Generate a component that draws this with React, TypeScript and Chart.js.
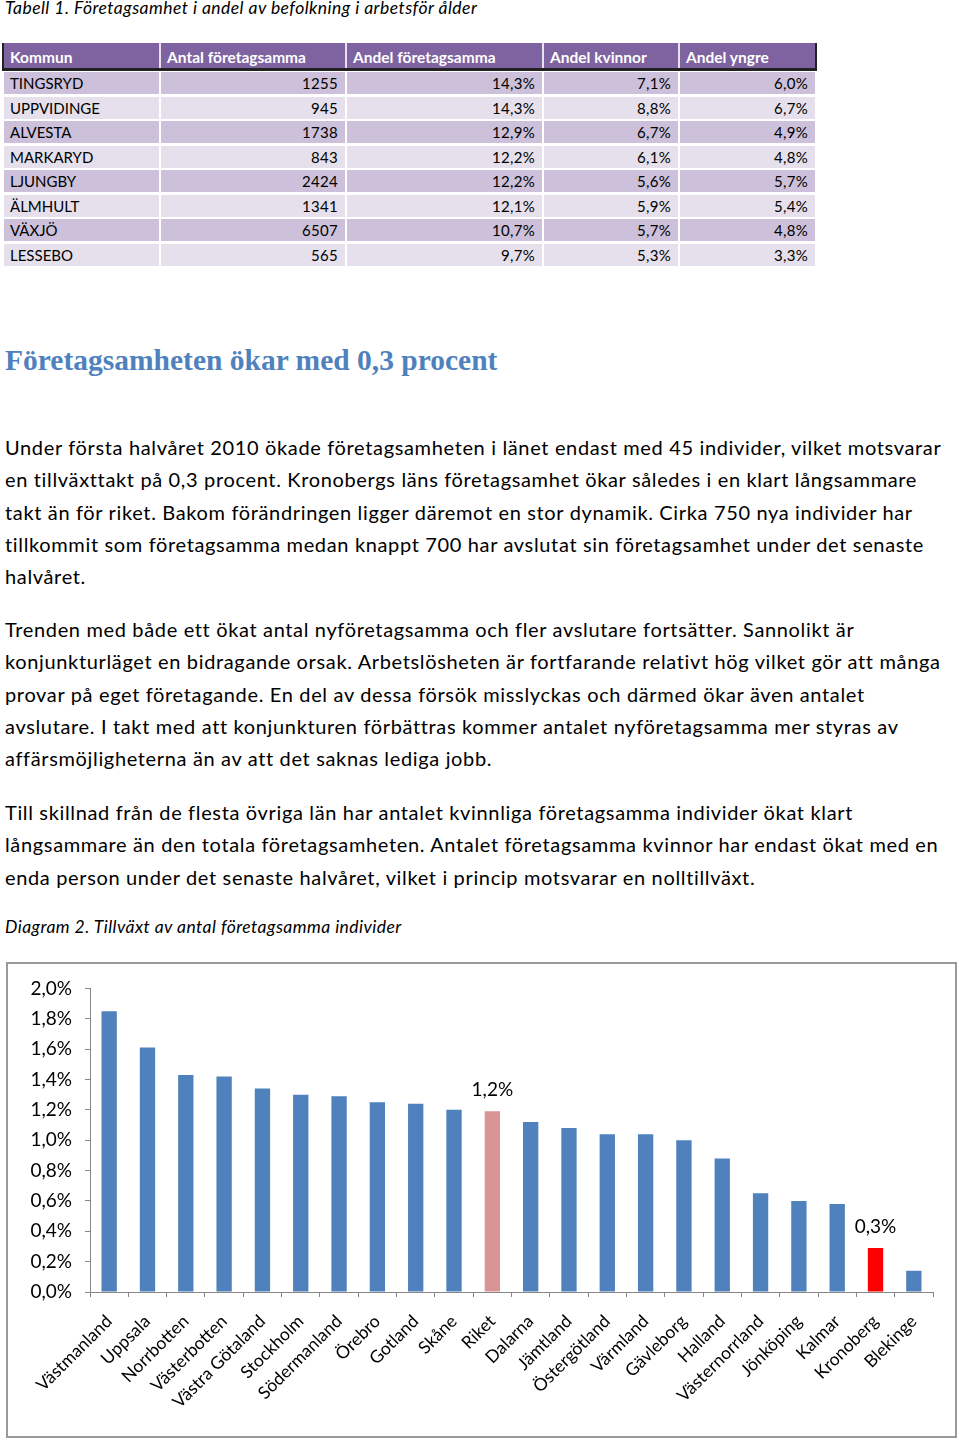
import React, { useEffect, useRef } from "react";
import { Chart, registerables } from "chart.js";

Chart.register(...registerables);

// ---------- Data ----------
const tableTitle = "Tabell 1. Företagsamhet i andel av befolkning i arbetsför ålder";
const tableHeaders = ["Kommun", "Antal företagsamma", "Andel företagsamma", "Andel kvinnor", "Andel yngre"];
const kommuner = ["TINGSRYD", "UPPVIDINGE", "ALVESTA", "MARKARYD", "LJUNGBY", "ÄLMHULT", "VÄXJÖ", "LESSEBO"];
const antalForetagsamma = ["1255", "945", "1738", "843", "2424", "1341", "6507", "565"];
const andelForetagsamma = ["14,3%", "14,3%", "12,9%", "12,2%", "12,2%", "12,1%", "10,7%", "9,7%"];
const andelKvinnor = ["7,1%", "8,8%", "6,7%", "6,1%", "5,6%", "5,9%", "5,7%", "5,3%"];
const andelYngre = ["6,0%", "6,7%", "4,9%", "4,8%", "5,7%", "5,4%", "4,8%", "3,3%"];

const heading = "Företagsamheten ökar med 0,3 procent";
const paragraph1 = [
  "Under första halvåret 2010 ökade företagsamheten i länet endast med 45 individer, vilket motsvarar",
  "en tillväxttakt på 0,3 procent. Kronobergs läns företagsamhet ökar således i en klart långsammare",
  "takt än för riket. Bakom förändringen ligger däremot en stor dynamik. Cirka 750 nya individer har",
  "tillkommit som företagsamma medan knappt 700 har avslutat sin företagsamhet under det senaste",
  "halvåret.",
];
const paragraph2 = [
  "Trenden med både ett ökat antal nyföretagsamma och fler avslutare fortsätter. Sannolikt är",
  "konjunkturläget en bidragande orsak. Arbetslösheten är fortfarande relativt hög vilket gör att många",
  "provar på eget företagande. En del av dessa försök misslyckas och därmed ökar även antalet",
  "avslutare. I takt med att konjunkturen förbättras kommer antalet nyföretagsamma mer styras av",
  "affärsmöjligheterna än av att det saknas lediga jobb.",
];
const paragraph3 = [
  "Till skillnad från de flesta övriga län har antalet kvinnliga företagsamma individer ökat klart",
  "långsammare än den totala företagsamheten. Antalet företagsamma kvinnor har endast ökat med en",
  "enda person under det senaste halvåret, vilket i princip motsvarar en nolltillväxt.",
];
const chartTitle = "Diagram 2. Tillväxt av antal företagsamma individer";

const lan = [
  "Västmanland", "Uppsala", "Norrbotten", "Västerbotten", "Västra Götaland", "Stockholm",
  "Södermanland", "Örebro", "Gotland", "Skåne", "Riket", "Dalarna", "Jämtland", "Östergötland",
  "Värmland", "Gävleborg", "Halland", "Västernorrland", "Jönköping", "Kalmar", "Kronoberg", "Blekinge",
];
const tillvaxt = [
  1.85, 1.61, 1.43, 1.42, 1.34, 1.30, 1.29, 1.25, 1.24, 1.20, 1.19, 1.12, 1.08, 1.04,
  1.04, 1.00, 0.88, 0.65, 0.60, 0.58, 0.29, 0.14,
];
const barLabels: (string | null)[] = [
  null, null, null, null, null, null, null, null, null, null, "1,2%", null, null, null,
  null, null, null, null, null, null, "0,3%", null,
];
const yMin = 0;
const yMax = 2;
const yStep = 0.2;

// ---------- Styles ----------
const BLUE = "#4F81BD";
const RIKET = "#D99594";
const KRONO = "#FF0000";
const barColors = lan.map((n) => (n === "Riket" ? RIKET : n === "Kronoberg" ? KRONO : BLUE));

const SANS = "Lato, 'Noto Sans', sans-serif";

const colLeft = [4, 161, 347, 544, 680];
const colWidth = [155, 184, 195, 134, 135];
const rowTop0 = 72;
const rowPitch = 24.57;
const rowH = 22;

const valueLabelPlugin = {
  id: "valueLabels",
  afterDatasetsDraw(chart: any) {
    const ctx = chart.ctx;
    const meta = chart.getDatasetMeta(0);
    ctx.save();
    ctx.font = "19px Lato";
    ctx.fillStyle = "#000";
    ctx.textAlign = "center";
    ctx.textBaseline = "middle";
    meta.data.forEach((bar: any, i: number) => {
      const t = barLabels[i];
      if (t) ctx.fillText(t, bar.x, bar.y - 21);
    });
    ctx.restore();
  },
};

function BarChart() {
  const ref = useRef<HTMLCanvasElement>(null);
  useEffect(() => {
    if (!ref.current) return;
    const chart = new Chart(ref.current, {
      type: "bar",
      data: {
        labels: lan,
        datasets: [
          {
            data: tillvaxt,
            backgroundColor: barColors,
            borderWidth: 0,
            barPercentage: 0.4,
            categoryPercentage: 1.0,
          },
        ],
      },
      options: {
        animation: false,
        responsive: false,
        devicePixelRatio: 1,
        layout: { padding: { top: 22, right: 22, left: 0, bottom: 0 } },
        plugins: { legend: { display: false }, tooltip: { enabled: false } },
        scales: {
          x: {
            grid: { display: true, drawOnChartArea: false, drawTicks: true, tickLength: 5, color: "#868686", offset: true },
            border: { display: true, color: "#868686", width: 1 },
            ticks: {
              color: "#000",
              font: { family: "Lato", size: 17.5 },
              maxRotation: 45,
              minRotation: 45,
              autoSkip: false,
              padding: 14,
            },
            afterFit: (s: any) => {
              s.height = 144;
            },
          },
          y: {
            min: yMin,
            max: yMax,
            grid: { display: true, drawOnChartArea: false, drawTicks: true, tickLength: 5, color: "#868686" },
            border: { display: true, color: "#868686", width: 1 },
            ticks: {
              stepSize: yStep,
              color: "#000",
              font: { family: "Lato", size: 19 },
              padding: 13,
              callback: (v: any) => Number(v).toFixed(1).replace(".", ",") + "%",
            },
            afterFit: (s: any) => {
              s.width = 82;
            },
          },
        },
      },
      plugins: [valueLabelPlugin],
    });
    return () => chart.destroy();
  }, []);
  return <canvas ref={ref} width={947} height={472} style={{ display: "block", width: 947, height: 472 }} />;
}

function Lines({ lines, top }: { lines: string[]; top: number }) {
  return (
    <div
      style={{
        position: "absolute",
        left: 5,
        top,
        fontFamily: SANS,
        fontSize: 20,
        letterSpacing: "0.65px",
        lineHeight: "32.3px",
        color: "#000",
        whiteSpace: "nowrap",
      }}
    >
      {lines.map((l, i) => (
        <div key={i}>{l}</div>
      ))}
    </div>
  );
}

export default function App() {
  const cols = [kommuner, antalForetagsamma, andelForetagsamma, andelKvinnor, andelYngre];
  return (
    <div style={{ position: "absolute", left: 0, top: 0, width: 960, height: 1441, background: "#fff", overflow: "hidden" }}>
      <div
        style={{
          position: "absolute",
          left: 5,
          top: -3,
          fontFamily: SANS,
          fontStyle: "italic",
          fontSize: 17.5,
          letterSpacing: "0.45px",
          lineHeight: "22px",
          color: "#000",
          whiteSpace: "nowrap",
        }}
      >
        {tableTitle}
      </div>

      {/* table header */}
      <div style={{ position: "absolute", left: 2, top: 43, width: 815, height: 28, background: "#222" }} />
      {tableHeaders.map((h, c) => (
        <div
          key={h}
          style={{
            position: "absolute",
            left: colLeft[c],
            top: 43,
            width: colWidth[c],
            height: 25,
            background: "#7E63A0",
            color: "#fff",
            fontFamily: SANS,
            fontWeight: 700,
            fontSize: 15.5,
            lineHeight: "28px",
            paddingLeft: 6,
            boxSizing: "border-box",
            whiteSpace: "nowrap",
            overflow: "hidden",
          }}
        >
          {h}
        </div>
      ))}
      {[0, 1, 2, 3].map((c) => (
        <div
          key={"sep" + c}
          style={{
            position: "absolute",
            left: colLeft[c] + colWidth[c],
            top: 43,
            width: colLeft[c + 1] - colLeft[c] - colWidth[c],
            height: 25,
            background: "#E8E2EE",
          }}
        />
      ))}

      {/* table rows */}
      {kommuner.map((k, r) =>
        cols.map((col, c) => (
          <div
            key={r + "-" + c}
            style={{
              position: "absolute",
              left: colLeft[c],
              top: rowTop0 + r * rowPitch,
              width: colWidth[c],
              height: rowH,
              background: r % 2 === 0 ? "#CCC0DA" : "#E5E0EC",
              color: "#000",
              fontFamily: SANS,
              fontSize: 15,
              letterSpacing: c === 0 ? "0px" : "0.3px",
              lineHeight: rowH + "px",
              textAlign: c === 0 ? "left" : "right",
              paddingLeft: 6,
              paddingRight: 7,
              boxSizing: "border-box",
              whiteSpace: "nowrap",
            }}
          >
            {col[r]}
          </div>
        ))
      )}

      <div
        style={{
          position: "absolute",
          left: 5,
          top: 341,
          fontFamily: "'Liberation Serif', serif",
          fontWeight: 700,
          fontSize: 29.5,
          lineHeight: "38px",
          color: BLUE,
          whiteSpace: "nowrap",
        }}
      >
        {heading}
      </div>

      <Lines lines={paragraph1} top={431} />
      <Lines lines={paragraph2} top={613} />
      <Lines lines={paragraph3} top={796} />

      <div
        style={{
          position: "absolute",
          left: 5,
          top: 916,
          fontFamily: SANS,
          fontStyle: "italic",
          fontSize: 17.5,
          letterSpacing: "0.45px",
          lineHeight: "22px",
          color: "#000",
          whiteSpace: "nowrap",
        }}
      >
        {chartTitle}
      </div>

      <div style={{ position: "absolute", left: 6, top: 962, width: 947, height: 472, border: "2px solid #9A9A9A" }}>
        <BarChart />
      </div>
    </div>
  );
}
